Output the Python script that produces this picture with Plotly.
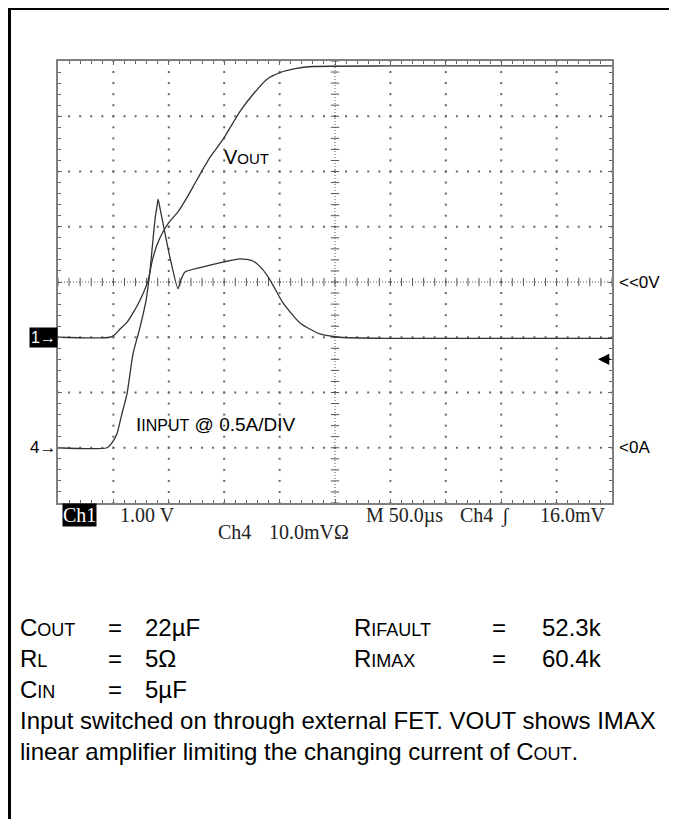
import numpy as np
import plotly.graph_objects as go

# ---------------- data ----------------
# time in microseconds (50 us/div, 10 divisions)
vout_t = [0, 46.9, 52, 56, 62.3, 67.7, 74, 81.2, 85, 89.3, 94.8, 101, 108.3,
          117, 125.4, 137, 148.9, 164.3, 177, 188.6, 200.4, 214, 229.3, 300, 400, 500]
vout_v = [0, 0, 0.06, 0.15, 0.27, 0.44, 0.67, 1.02, 1.38, 1.67, 1.91, 2.10, 2.27,
          2.55, 2.85, 3.25, 3.58, 4.09, 4.42, 4.67, 4.79, 4.86, 4.90, 4.91, 4.91, 4.91]

iin_t = [0, 44.2, 48.7, 53.2, 57.5, 62.3, 67.7, 74, 79.4, 83, 85.7, 88.0, 89.3, 90.3,
         92.0, 94.8, 101.1, 108.3, 111, 114.6, 128.2, 148.9, 164.3, 176, 185, 191.3,
         203.1, 218.4, 236.5, 254.5, 300, 400, 500]
iin_a = [0, 0, 0.045, 0.127, 0.30, 0.49, 0.85, 1.09, 1.33, 1.60, 1.88, 2.10, 2.18, 2.25,
         2.17, 2.03, 1.72, 1.44, 1.52, 1.59, 1.63, 1.68, 1.71, 1.69, 1.61, 1.52,
         1.31, 1.13, 1.03, 1.00, 0.99, 0.99, 0.99]

# scope settings
ch1_volts_per_div = 1.00
ch1_ground_div = -1.0
ch4_amps_per_div = 0.5
ch4_ground_div = -3.0
ch4_mv_per_div = 10.0
trigger_mv = 16.0
time_per_div_us = 50.0
n_xdiv, n_ydiv = 10, 8

status_left = ["1.00 V"]
status_right = ["M 50.0µs", "Ch4", "ʃ", "16.0mV"]
status_sub = ["Ch4", "10.0mVΩ"]

# ---------------- derived display positions ----------------
vout_div = [v / ch1_volts_per_div + ch1_ground_div for v in vout_v]
iin_div = [a / ch4_amps_per_div + ch4_ground_div for a in iin_a]
trig_div = ch4_ground_div + trigger_mv / ch4_mv_per_div
xmax = n_xdiv * time_per_div_us
ymax = n_ydiv / 2

# page has an 8px body margin -> figure is 8px smaller, coordinates given in window pixels
PAD = 8
W, H = 677 - PAD, 819 - PAD
L, R, T, B = 58, 612, 61, 503
def px(x):
    return (x - PAD) / W
def py(y):
    return 1 - (y - PAD) / H

fig = go.Figure()

# graticule dots on grid lines (1/5 division spacing)
gx, gy = [], []
for k in range(1, n_xdiv):
    if k == n_xdiv // 2:
        continue
    for j in np.arange(-ymax, ymax + 1e-9, 0.2):
        gx.append(k * time_per_div_us); gy.append(j)
for k in range(1, n_ydiv):
    yk = k - ymax
    if yk == 0:
        continue
    for j in np.arange(0, xmax + 1e-9, time_per_div_us / 5):
        gx.append(j); gy.append(yk)
fig.add_trace(go.Scatter(x=gx, y=gy, mode="markers", hoverinfo="skip",
                         marker=dict(symbol="square", size=2, color="#666", line=dict(width=0))))

# centre lines ticks
cx = list(np.arange(0, xmax + 1e-9, time_per_div_us / 5))
fig.add_trace(go.Scatter(x=cx, y=[0] * len(cx), mode="markers", hoverinfo="skip",
                         marker=dict(symbol="line-ns", size=6, color="#555", line=dict(width=1, color="#555"))))
cy = list(np.arange(-ymax, ymax + 1e-9, 0.2))
fig.add_trace(go.Scatter(x=[xmax / 2] * len(cy), y=cy, mode="markers", hoverinfo="skip",
                         marker=dict(symbol="line-ew", size=6, color="#555", line=dict(width=1, color="#555"))))

# traces
fig.add_trace(go.Scatter(x=vout_t, y=vout_div, mode="lines", hoverinfo="skip",
                         line=dict(color="#333", width=1.3, shape="spline", smoothing=0.6)))
fig.add_trace(go.Scatter(x=iin_t, y=iin_div, mode="lines", hoverinfo="skip",
                         line=dict(color="#333", width=1.3, shape="spline", smoothing=0.6)))

axis_common = dict(showgrid=False, zeroline=False, showticklabels=False,
                   showline=True, linecolor="#808080", linewidth=2, mirror="ticks",
                   ticks="inside", ticklen=4, tickcolor="#666", tickwidth=1)
fig.update_xaxes(range=[0, xmax], dtick=time_per_div_us, domain=[px(L), px(R)],
                 minor=dict(dtick=time_per_div_us / 5, ticks="inside", ticklen=3, tickcolor="#666"),
                 **axis_common)
fig.update_yaxes(range=[-ymax, ymax], dtick=1, domain=[py(B), py(T)],
                 minor=dict(dtick=0.2, ticks="inside", ticklen=3, tickcolor="#666"),
                 **axis_common)

shapes = [
    # centre dotted lines
    dict(type="line", xref="x", yref="y", x0=0, x1=xmax, y0=0, y1=0,
         line=dict(color="#555", width=1, dash="1px,2px")),
    dict(type="line", xref="x", yref="y", x0=xmax / 2, x1=xmax / 2, y0=-ymax, y1=ymax,
         line=dict(color="#555", width=1, dash="1px,2px")),
    # outer frame (top and left)
    dict(type="line", xref="paper", yref="paper", x0=px(8), x1=1.0, y0=py(8.5), y1=py(8.5),
         line=dict(color="black", width=3)),
    dict(type="line", xref="paper", yref="paper", x0=px(9.5), x1=px(9.5), y0=py(8), y1=0,
         line=dict(color="black", width=3)),
]

sans = "Liberation Sans, Arial, sans-serif"
serif = "Liberation Serif, Times New Roman, serif"
ann = []
# channel markers
ann.append(dict(text="1→", xref="paper", yref="y", x=px(58), y=ch1_ground_div, xanchor="right",
                yanchor="middle", showarrow=False, bgcolor="black", borderpad=1,
                font=dict(family=sans, size=16, color="white")))
ann.append(dict(text="4→", xref="paper", yref="y", x=px(58), y=ch4_ground_div, xanchor="right",
                yanchor="middle", showarrow=False, font=dict(family=sans, size=17, color="black")))
ann.append(dict(text="<<0V", xref="paper", yref="y", x=px(617), y=0, xanchor="left",
                yanchor="middle", showarrow=False, font=dict(family=sans, size=17, color="black")))
ann.append(dict(text="<0A", xref="paper", yref="y", x=px(617), y=ch4_ground_div, xanchor="left",
                yanchor="middle", showarrow=False, font=dict(family=sans, size=17, color="black")))
# trigger arrow
ann.append(dict(text="", xref="paper", yref="y", x=px(598), y=trig_div, ax=14, ay=0,
                showarrow=True, arrowhead=2, arrowsize=1.5, arrowwidth=1.5, arrowcolor="black"))
# trace labels
ann.append(dict(text="V<span style='font-size:15px'>OUT</span>", xref="x", yref="y",
                x=148, y=2.27, xanchor="left", yanchor="middle", showarrow=False,
                font=dict(family=sans, size=20, color="black")))
ann.append(dict(text="I<span style='font-size:16px'>INPUT</span> @ 0.5A/DIV", xref="x", yref="y",
                x=69, y=-2.58, xanchor="left", yanchor="middle", showarrow=False,
                font=dict(family=sans, size=19, color="black")))
# status line
sfs = 20
ann.append(dict(text="Ch1", xref="paper", yref="paper", x=px(62), y=py(515), xanchor="left",
                yanchor="middle", showarrow=False, bgcolor="black", borderpad=0,
                font=dict(family=serif, size=sfs, color="white")))
ann.append(dict(text=status_left[0], xref="paper", yref="paper", x=px(118), y=py(515), xanchor="left",
                yanchor="middle", showarrow=False, font=dict(family=serif, size=sfs, color="#222")))
for txt, xx in zip(status_right, [364, 458, 499, 608]):
    ann.append(dict(text=txt, xref="paper", yref="paper", x=px(xx), y=py(515),
                    xanchor="right" if txt == status_right[-1] else "left",
                    yanchor="middle", showarrow=False, font=dict(family=serif, size=sfs, color="#222")))
for txt, xx in zip(status_sub, [216, 267]):
    ann.append(dict(text=txt, xref="paper", yref="paper", x=px(xx), y=py(532), xanchor="left",
                    yanchor="middle", showarrow=False, font=dict(family=serif, size=sfs, color="#222")))

# parameter block
fs, sc = 24, 18
def smallcaps(big, small):
    return f"{big}<span style='font-size:{sc}px'>{small}</span>"
rows = [
    (627, [(18, smallcaps("C", "OUT")), (106, "="), (143, "22µF"),
           (352, smallcaps("R", "IFAULT")), (490, "="), (540, "52.3k")]),
    (658, [(18, smallcaps("R", "L")), (106, "="), (143, "5Ω"),
           (352, smallcaps("R", "IMAX")), (490, "="), (540, "60.4k")]),
    (689, [(18, smallcaps("C", "IN")), (106, "="), (143, "5µF")]),
    (720, [(18, "Input switched on through external FET. VOUT shows IMAX")]),
    (751, [(18, "linear amplifier limiting the changing current of " + smallcaps("C", "OUT") + ".")]),
]
for yy, items in rows:
    for xx, txt in items:
        ann.append(dict(text=txt, xref="paper", yref="paper", x=px(xx), y=py(yy), xanchor="left",
                        yanchor="middle", showarrow=False, font=dict(family=sans, size=fs, color="black")))

fig.update_layout(width=W, height=H, margin=dict(l=0, r=0, t=0, b=0),
                  paper_bgcolor="white", plot_bgcolor="white", showlegend=False,
                  shapes=shapes, annotations=ann)
fig.write_html("out.html")
